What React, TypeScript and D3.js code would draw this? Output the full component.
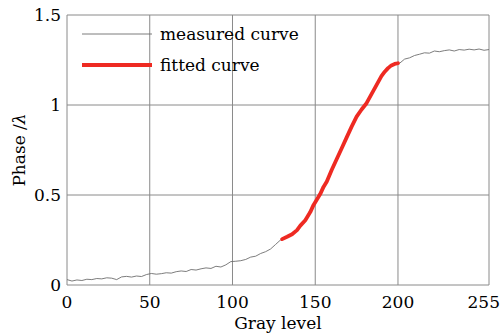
import { useRef, useEffect } from "react";
import * as d3 from "d3";

// measured phase, sampled every 3 gray levels
const measuredGray = [
  0, 3, 6, 9, 12, 15, 18, 21, 24, 27, 30, 33, 36, 39, 42, 45, 48, 51, 54, 57,
  60, 63, 66, 69, 72, 75, 78, 81, 84, 87, 90, 93, 96, 99, 102, 105, 108, 111,
  114, 117, 120, 123, 126, 129, 132, 135, 138, 141, 144, 147, 150, 153, 156,
  159, 162, 165, 168, 171, 174, 177, 180, 183, 186, 189, 192, 195, 198, 201,
  204, 207, 210, 213, 216, 219, 222, 225, 228, 231, 234, 237, 240, 243, 246,
  249, 252, 255,
];
const measuredPhase = [
  0.03, 0.022, 0.028, 0.025, 0.032, 0.03, 0.036, 0.034, 0.04, 0.038, 0.03,
  0.045, 0.048, 0.044, 0.05, 0.047, 0.058, 0.064, 0.06, 0.063, 0.068, 0.066,
  0.074, 0.078, 0.075, 0.086, 0.083, 0.09, 0.095, 0.092, 0.104, 0.1, 0.112,
  0.13, 0.132, 0.135, 0.142, 0.155, 0.16, 0.175, 0.185, 0.2, 0.225, 0.25,
  0.262, 0.28, 0.3, 0.33, 0.365, 0.41, 0.455, 0.5, 0.555, 0.62, 0.68, 0.74,
  0.8, 0.86, 0.915, 0.96, 1.0, 1.05, 1.1, 1.15, 1.19, 1.215, 1.225, 1.232,
  1.255, 1.262, 1.275, 1.282, 1.29, 1.288, 1.3, 1.296, 1.302, 1.306, 1.3,
  1.308, 1.305, 1.31, 1.306, 1.311, 1.304, 1.308,
];

const fittedGray = [
  130, 133, 136, 139, 141, 144, 147, 149, 151, 153, 155, 157, 160, 163, 166,
  169, 172, 175, 178, 181, 184, 187, 190, 192, 194, 196, 198, 200,
];
const fittedPhase = [
  0.255, 0.268, 0.282, 0.305, 0.33, 0.36, 0.405, 0.445, 0.475, 0.505, 0.545,
  0.575, 0.64, 0.7, 0.76, 0.82, 0.88, 0.935, 0.975, 1.01, 1.06, 1.11, 1.16,
  1.185, 1.205, 1.22, 1.228, 1.232,
];

const xTicks = [0, 50, 100, 150, 200, 255];
const yTicks = [0, 0.5, 1, 1.5];
const legendLabels = ["measured curve", "fitted curve"];

const FONT = "'DejaVu Serif', serif";
const FS = 17;

function App() {
  const svgRef = useRef(null);

  useEffect(() => {
    const width = 501;
    const height = 333;
    const margin = { left: 67, right: 12, top: 15, bottom: 48 };

    const x = d3
      .scaleLinear()
      .domain([0, 255])
      .range([margin.left, width - margin.right]);
    const y = d3
      .scaleLinear()
      .domain([0, 1.5])
      .range([height - margin.bottom, margin.top]);

    const svg = d3.select(svgRef.current);
    svg.selectAll("*").remove();
    svg.attr("width", width).attr("height", height);

    // grid
    svg
      .selectAll(".vgrid")
      .data(xTicks)
      .join("line")
      .attr("class", "vgrid")
      .attr("x1", (d) => x(d))
      .attr("x2", (d) => x(d))
      .attr("y1", y(0))
      .attr("y2", y(1.5))
      .attr("stroke", "#8a8a8a")
      .attr("stroke-width", 1);
    svg
      .selectAll(".hgrid")
      .data(yTicks)
      .join("line")
      .attr("class", "hgrid")
      .attr("x1", x(0))
      .attr("x2", x(255))
      .attr("y1", (d) => y(d))
      .attr("y2", (d) => y(d))
      .attr("stroke", "#8a8a8a")
      .attr("stroke-width", 1);

    // tick labels (last one kept inside the right edge)
    svg
      .selectAll(".xlabel")
      .data(xTicks)
      .join("text")
      .attr("class", "xlabel")
      .attr("x", (d) => (d === 255 ? width - 1 : x(d)))
      .attr("y", y(0) + 23)
      .attr("text-anchor", (d) => (d === 255 ? "end" : "middle"))
      .attr("font-family", FONT)
      .attr("font-size", FS)
      .text((d) => d);
    svg
      .selectAll(".ylabel")
      .data(yTicks)
      .join("text")
      .attr("class", "ylabel")
      .attr("x", x(0) - 6)
      .attr("y", (d) => y(d) + 6)
      .attr("text-anchor", "end")
      .attr("font-family", FONT)
      .attr("font-size", FS)
      .text((d) => d);

    // axis titles
    svg
      .append("text")
      .attr("x", x(127.5))
      .attr("y", height - 4)
      .attr("text-anchor", "middle")
      .attr("font-family", FONT)
      .attr("font-size", FS)
      .text("Gray level");
    const yt = svg
      .append("text")
      .attr("transform", `translate(25,${y(0.75)}) rotate(-90)`)
      .attr("text-anchor", "middle")
      .attr("font-family", FONT)
      .attr("font-size", FS);
    yt.append("tspan").text("Phase /");
    yt.append("tspan").attr("font-style", "italic").text("λ");

    const line = d3
      .line()
      .x((d) => x(d[0]))
      .y((d) => y(d[1]));

    // measured curve
    svg
      .append("path")
      .datum(measuredGray.map((g, i) => [g, measuredPhase[i]]))
      .attr("d", line)
      .attr("fill", "none")
      .attr("stroke", "#6e6e6e")
      .attr("stroke-width", 0.9);

    // fitted curve
    svg
      .append("path")
      .datum(fittedGray.map((g, i) => [g, fittedPhase[i]]))
      .attr("d", line)
      .attr("fill", "none")
      .attr("stroke", "#ee2a22")
      .attr("stroke-width", 3.8)
      .attr("stroke-linejoin", "round")
      .attr("stroke-linecap", "round");

    // legend
    const legend = svg
      .selectAll(".legend")
      .data(legendLabels)
      .join("g")
      .attr("class", "legend")
      .attr("transform", (_, i) => `translate(82,${34 + i * 31})`);
    legend
      .append("line")
      .attr("x1", 0)
      .attr("x2", 70)
      .attr("stroke", (_, i) => (i === 0 ? "#6e6e6e" : "#ee2a22"))
      .attr("stroke-width", (_, i) => (i === 0 ? 0.9 : 3.8));
    legend
      .append("text")
      .attr("x", 78)
      .attr("y", 6)
      .attr("font-family", FONT)
      .attr("font-size", FS)
      .text((d) => d);
  }, []);

  return (
    <div style={{ position: "absolute", left: 0, top: 0 }}>
      <svg ref={svgRef} style={{ display: "block" }} />
    </div>
  );
}

export default App;
